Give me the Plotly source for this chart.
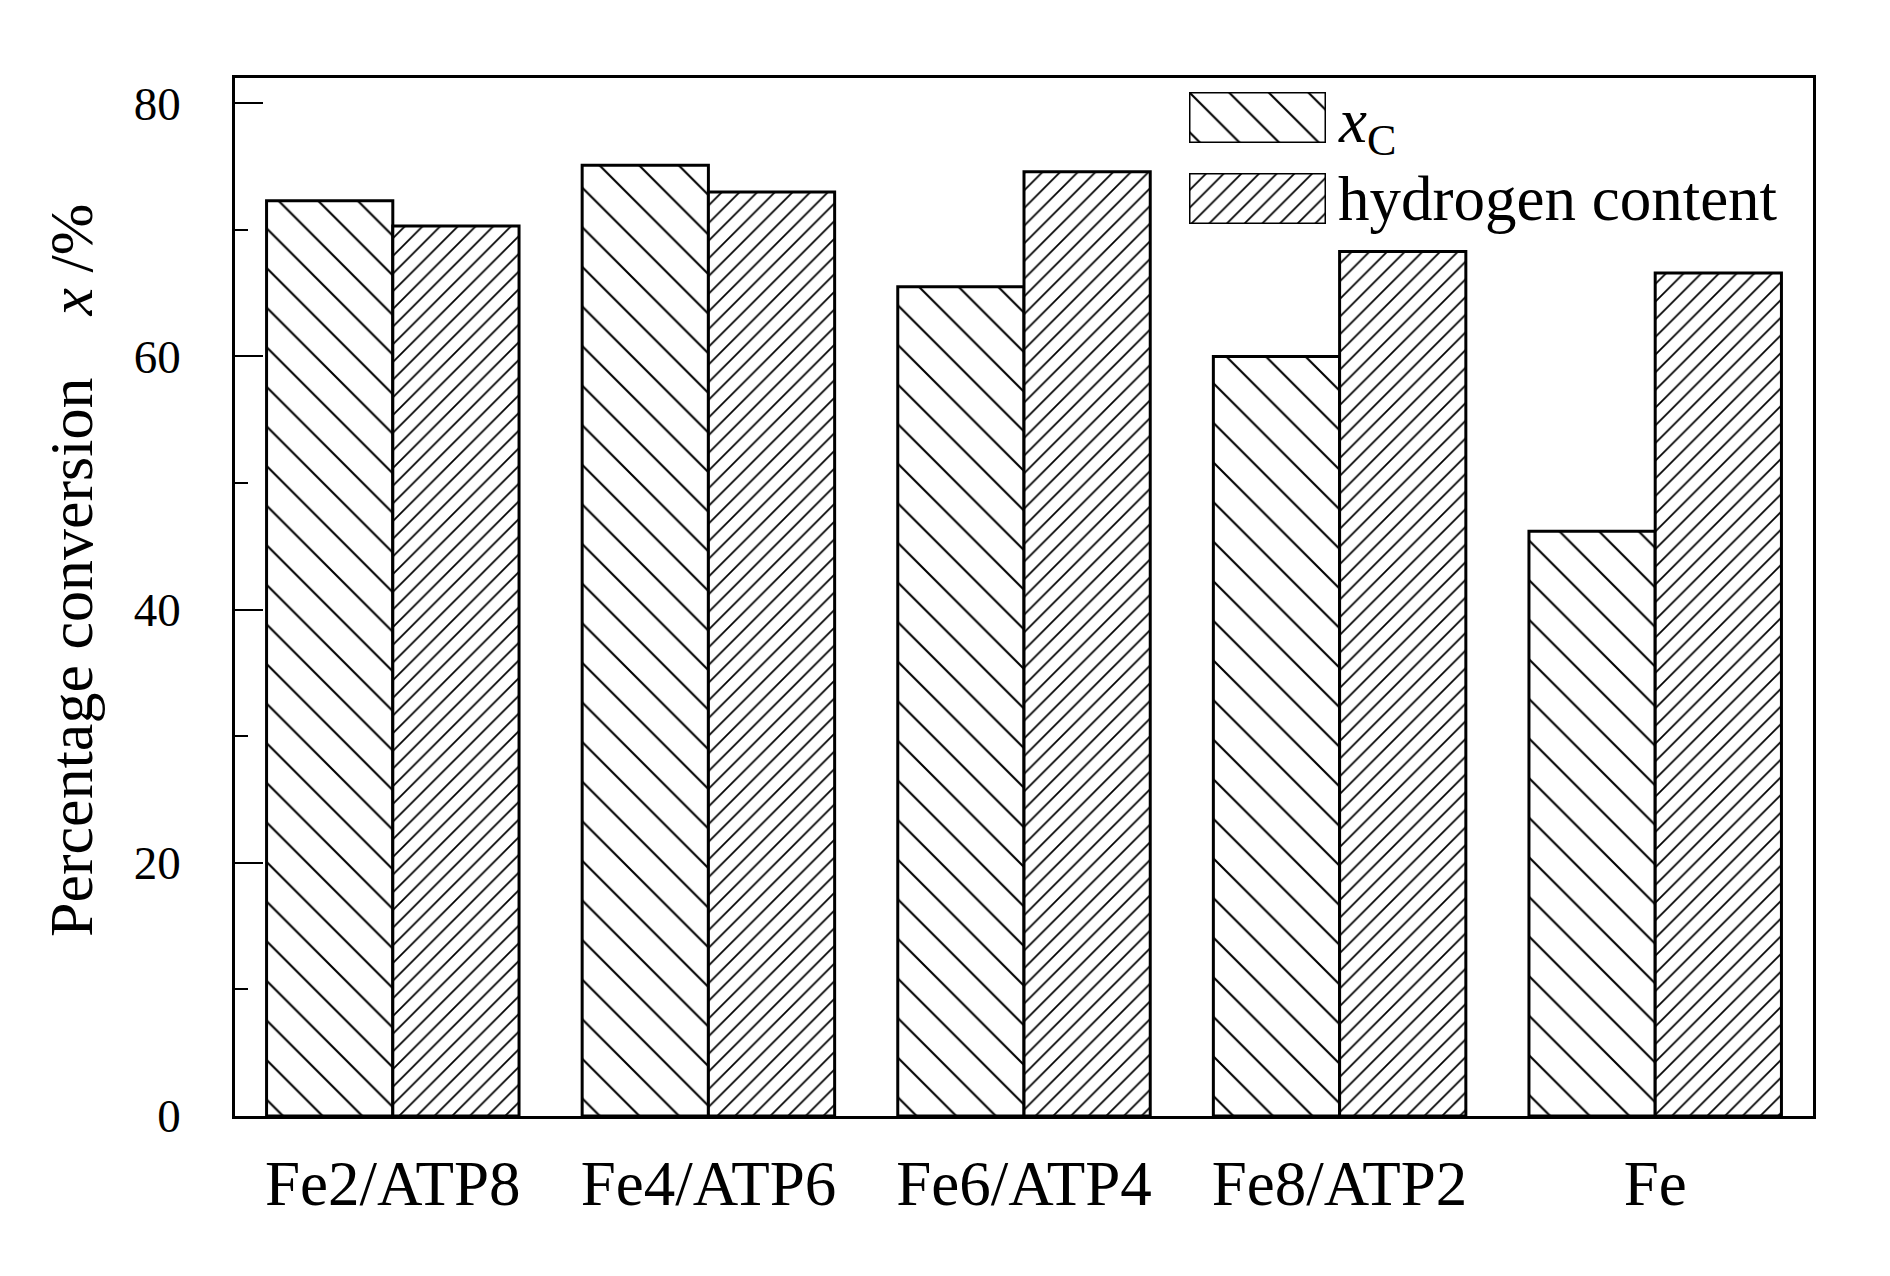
import plotly.graph_objects as go

categories = ["Fe2/ATP8", "Fe4/ATP6", "Fe6/ATP4", "Fe8/ATP2", "Fe"]
xc_values = [72.3, 75.1, 65.5, 60.0, 46.2]
hydrogen_values = [70.3, 73.0, 74.6, 68.3, 66.6]
series_names = ["<i>x</i><sub>C</sub>", "hydrogen content"]
y_ticks = [0, 20, 40, 60, 80]

FONT = "Liberation Serif"
W, H = 1890, 1276
L, R, T, B = 227, 85, 70, 168

pat_xc = dict(shape="\\", size=28, solidity=0.075, fgcolor="black", bgcolor="white", fillmode="replace")
pat_h = dict(shape="/", size=12.5, solidity=0.14, fgcolor="black", bgcolor="white", fillmode="replace")

fig = go.Figure()
fig.add_trace(go.Bar(x=categories, y=xc_values, name=series_names[0],
                     marker=dict(color="white", pattern=pat_xc, line=dict(color="black", width=3)),
                     showlegend=False))
fig.add_trace(go.Bar(x=categories, y=hydrogen_values, name=series_names[1],
                     marker=dict(color="white", pattern=pat_h, line=dict(color="black", width=3)),
                     showlegend=False))

# custom large legend swatches (each on its own small overlay axis)
def px_x(p):
    return (p - L) / (W - L - R)

def px_y(p):
    return 1 - (p - T) / (H - T - B)

sw_x = [px_x(1181), px_x(1318)]
sw1_y = [px_y(135), px_y(84)]
sw2_y = [px_y(216), px_y(165)]

fig.add_trace(go.Bar(x=[0], y=[1], width=[1], xaxis="x2", yaxis="y2", showlegend=False,
                     marker=dict(color="white", pattern=pat_xc, line=dict(color="black", width=3)),
                     hoverinfo="skip"))
fig.add_trace(go.Bar(x=[0], y=[1], width=[1], xaxis="x3", yaxis="y3", showlegend=False,
                     marker=dict(color="white", pattern=pat_h, line=dict(color="black", width=3)),
                     hoverinfo="skip"))

hidden = dict(visible=False, fixedrange=True)
fig.update_layout(
    xaxis2=dict(domain=sw_x, range=[-0.5, 0.5], anchor="y2", **hidden),
    yaxis2=dict(domain=sw1_y, range=[0, 1], anchor="x2", **hidden),
    xaxis3=dict(domain=sw_x, range=[-0.5, 0.5], anchor="y3", **hidden),
    yaxis3=dict(domain=sw2_y, range=[0, 1], anchor="x3", **hidden),
)

fig.add_annotation(x=px_x(1328), y=(sw1_y[0] + sw1_y[1]) / 2 - 0.008, xref="paper", yref="paper",
                   text=series_names[0], showarrow=False, xanchor="left", yanchor="middle",
                   font=dict(family=FONT, size=63, color="black"))
fig.add_annotation(x=px_x(1328), y=(sw2_y[0] + sw2_y[1]) / 2, xref="paper", yref="paper",
                   text=series_names[1], showarrow=False, xanchor="left", yanchor="middle",
                   font=dict(family=FONT, size=63, color="black"))

fig.add_annotation(x=px_x(63), y=0.525, xref="paper", yref="paper",
                   text="Percentage conversion\u00a0\u00a0\u00a0\u00a0<i>x</i> /%",
                   textangle=-90, showarrow=False, xanchor="center", yanchor="middle",
                   font=dict(family=FONT, size=62, color="black"))

fig.update_layout(
    width=W, height=H,
    margin=dict(l=L, r=R, t=T, b=B),
    paper_bgcolor="white", plot_bgcolor="white",
    barmode="group", bargap=0.2, bargroupgap=0,
    font=dict(family=FONT, color="black"),
    xaxis=dict(range=[-0.5, 4.5], showline=True, linecolor="black", linewidth=2.5, mirror=True,
               ticks="", showgrid=False, zeroline=False,
               tickfont=dict(family=FONT, size=63, color="black"), ticklabelstandoff=11),
    yaxis=dict(range=[0, 82], showline=True, linecolor="black", linewidth=2.5, mirror=True,
               tickmode="array", tickvals=y_ticks, ticks="inside", ticklen=28, tickwidth=2,
               tickcolor="black", showgrid=False, zeroline=False,
               minor=dict(ticks="inside", ticklen=13, tickwidth=2, tickcolor="black", dtick=10, tick0=0),
               tickfont=dict(family=FONT, size=47, color="black"), ticklabelstandoff=42),
)

fig.write_html("out.html")
